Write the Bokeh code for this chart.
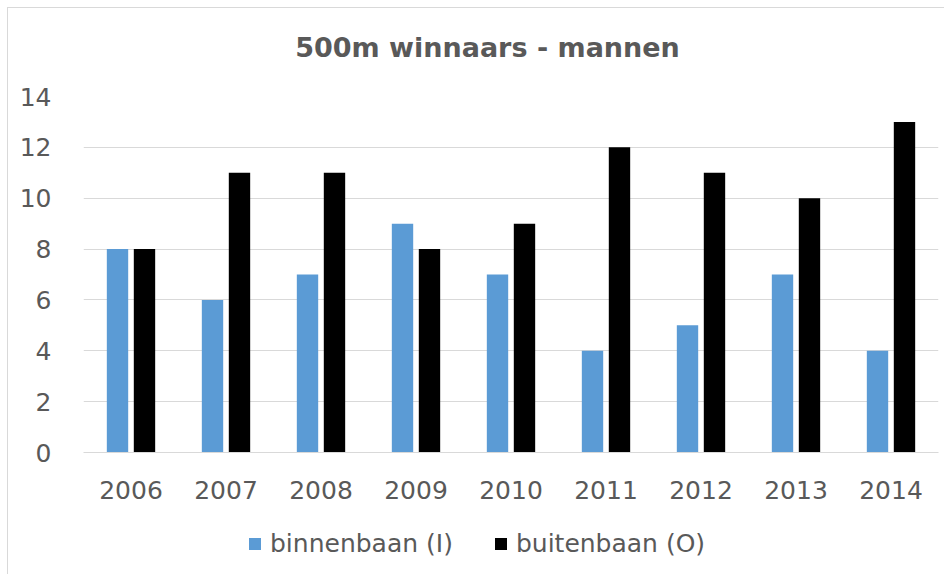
from bokeh.plotting import figure
from bokeh.layouts import column
from bokeh.models import FactorRange, Legend, LegendItem, FixedTicker, ColumnDataSource
from bokeh.core.properties import value
from bokeh.transform import dodge
from bokeh.embed import file_html
from bokeh.resources import INLINE

years = ["2006", "2007", "2008", "2009", "2010", "2011", "2012", "2013", "2014"]
binnenbaan = [8, 6, 7, 9, 7, 4, 5, 7, 4]
buitenbaan = [8, 11, 11, 8, 9, 12, 11, 10, 13]
y_ticks = [0, 2, 4, 6, 8, 10, 12, 14]
title_text = "500m winnaars - mannen"
series_names = ["binnenbaan (I)", "buitenbaan (O)"]

FONT = "DejaVu Sans"
TXT = "#595959"
BLUE = "#5B9BD5"
BLACK = "#000000"

def bare(fig):
    fig.outline_line_color = None
    fig.xgrid.grid_line_color = None
    fig.ygrid.grid_line_color = None
    fig.title.text = ""
    return fig

# header with title
p0 = bare(figure(frame_width=855, frame_height=74, x_range=(0, 1), y_range=(0, 74),
                 x_axis_location=None, y_axis_location=None,
                 output_backend="svg", toolbar_location=None,
                 min_border_left=75, min_border_right=6, min_border_top=0, min_border_bottom=0))
p0.text(x=[0.4725], y=[35], text=[title_text], text_align="center", text_baseline="middle",
        text_font=value(FONT), text_font_style="bold", text_font_size=value("27px"),
        text_color=TXT)

# main chart
src = ColumnDataSource(dict(years=years, binnen=binnenbaan, buiten=buitenbaan))
p = figure(frame_width=855, frame_height=356, x_range=FactorRange(*years), y_range=(0, 14),
           output_backend="svg", toolbar_location=None,
           min_border_left=75, min_border_right=6, min_border_top=14, min_border_bottom=60)
p.title.text = ""
p.vbar(x=dodge("years", -0.142, range=p.x_range), top="binnen", width=0.225,
       source=src, fill_color=BLUE, line_color=None)
p.vbar(x=dodge("years", 0.142, range=p.x_range), top="buiten", width=0.225,
       source=src, fill_color=BLACK, line_color=None)
p.outline_line_color = None
p.xgrid.grid_line_color = None
p.ygrid.grid_line_color = "#D9D9D9"
p.ygrid.grid_line_width = 1
p.yaxis.ticker = FixedTicker(ticks=y_ticks)
p.yaxis.axis_line_color = None
p.yaxis.major_tick_line_color = None
p.yaxis.minor_tick_line_color = None
p.xaxis.axis_line_color = "#D9D9D9"
p.xaxis.major_tick_line_color = None
p.xaxis.minor_tick_line_color = None
for ax in (p.xaxis, p.yaxis):
    ax.major_label_text_font = FONT
    ax.major_label_text_font_size = "25px"
    ax.major_label_text_color = TXT
p.yaxis.major_label_standoff = 26
p.xaxis.major_label_standoff = 22
p.x_range.range_padding = 0
p.x_range.group_padding = 0

# legend strip (zero-size proxy renderers only supply the legend swatches)
p2 = bare(figure(frame_width=855, frame_height=62, x_range=(0, 1), y_range=(0, 1),
                 x_axis_location=None, y_axis_location=None,
                 output_backend="svg", toolbar_location=None,
                 min_border_left=75, min_border_right=6, min_border_top=0, min_border_bottom=0))
d1 = p2.vbar(x=0.5, top=0, bottom=0, width=0, fill_color=BLUE, line_color=None)
d2 = p2.vbar(x=0.5, top=0, bottom=0, width=0, fill_color=BLACK, line_color=None)
legend = Legend(items=[LegendItem(label=series_names[0], renderers=[d1]),
                       LegendItem(label=series_names[1], renderers=[d2])],
                orientation="horizontal", location=(164, 16),
                label_text_font=FONT, label_text_font_size="25px", label_text_color=TXT,
                glyph_width=15, glyph_height=15, spacing=40, label_standoff=8,
                border_line_color=None, background_fill_alpha=0, margin=0, padding=0)
p2.add_layout(legend, "center")

layout = column(p0, p, p2, spacing=0,
                styles={"border-left": "1px solid #D9D9D9", "border-top": "1px solid #D9D9D9",
                        "margin-left": "7px", "margin-top": "7px"})

open("out.html", "w").write(file_html(layout, INLINE))
